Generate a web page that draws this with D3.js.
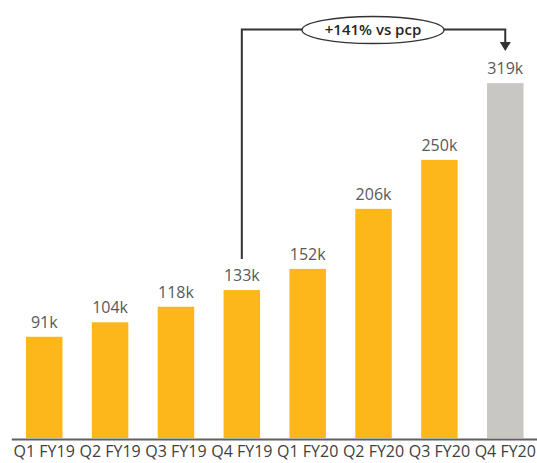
<!DOCTYPE html>
<html><head><meta charset="utf-8">
<script src="https://cdn.jsdelivr.net/npm/d3@7"></script>
<style>body{margin:0;background:#fff}svg{display:block}</style>
</head><body>
<svg id="c" width="537" height="463"></svg>
<script>
const categories = ["Q1 FY19","Q2 FY19","Q3 FY19","Q4 FY19","Q1 FY20","Q2 FY20","Q3 FY20","Q4 FY20"];
const values = [91,104,118,133,152,206,250,319];
const valueLabels = ["91k","104k","118k","133k","152k","206k","250k","319k"];
const highlight = [false,false,false,false,false,false,false,true];
const annotation = {from: 3, to: 7, text: "+141% vs pcp"};

const svg = d3.select("#c");
const font = "'Open Sans', sans-serif";
const x = d3.scaleBand().domain(categories).range([11.3, 538.2]).paddingInner(0.446).paddingOuter(0.223);
const y = d3.scaleLinear().domain([0, 320]).range([438, 82]);

svg.selectAll("rect.bar").data(values).join("rect")
  .attr("class","bar")
  .attr("x",(d,i)=>x(categories[i]))
  .attr("width",x.bandwidth())
  .attr("y",d=>y(d))
  .attr("height",d=>y(0)-y(d))
  .attr("fill",(d,i)=>highlight[i]?"#C8C7C3":"#FDB71B");

svg.selectAll("text.val").data(values).join("text")
  .attr("class","val")
  .attr("x",(d,i)=>x(categories[i])+x.bandwidth()/2)
  .attr("y",d=>y(d)-9)
  .attr("text-anchor","middle")
  .attr("font-family",font).attr("font-size",16)
  .attr("fill","#595959")
  .text((d,i)=>valueLabels[i]);

const axis = svg.append("g").attr("transform",`translate(0,${y(0)+1})`)
  .call(d3.axisBottom(x).tickSize(0).tickPadding(7));
axis.select(".domain").attr("stroke","#5f5f5f").attr("stroke-width",2);
axis.selectAll("text").attr("font-family",font).attr("font-size",16).attr("fill","#404040");

// annotation
const cx = i => x(categories[i]) + x.bandwidth()/2;
const x1 = cx(annotation.from), x2 = cx(annotation.to);
const topY = 29.5;
const startY = y(values[annotation.from]) - 31;
const tipY = y(values[annotation.to]) - 32;
svg.append("path")
  .attr("d",`M${x1},${startY}V${topY}H${x2}V${tipY-9}`)
  .attr("fill","none").attr("stroke","#333").attr("stroke-width",2);
svg.append("path")
  .attr("d",`M${x2-5.5},${tipY-9}L${x2+5.5},${tipY-9}L${x2},${tipY}Z`)
  .attr("fill","#333");
const ex = 373;
svg.append("ellipse").attr("cx",ex).attr("cy",topY+0.5).attr("rx",71).attr("ry",13.5)
  .attr("fill","#fff").attr("stroke","#333").attr("stroke-width",1.3);
svg.append("text").attr("x",ex).attr("y",topY+5.5).attr("text-anchor","middle")
  .attr("font-family",font).attr("font-size",15).attr("font-weight",600).attr("fill","#262626")
  .text(annotation.text);
</script>
</body></html>
